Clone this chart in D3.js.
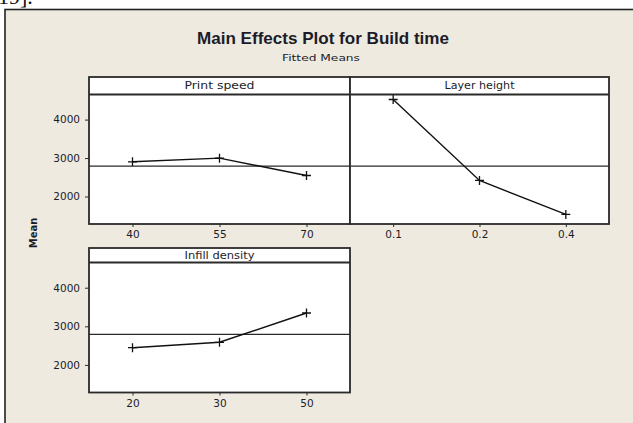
<!DOCTYPE html>
<html>
<head>
<meta charset="utf-8">
<script src="https://cdn.jsdelivr.net/npm/d3@7"></script>
<style>
  body { margin: 0; background: #fff; }
  svg { display: block; }
</style>
</head>
<body>
<div id="chart"></div>
<script>
// values
var chartTitle = "Main Effects Plot for Build time";
var chartSubtitle = "Fitted Means";
var factorNames = ["Print speed", "Layer height", "Infill density"];
var printSpeedLevels = ["40", "55", "70"];
var printSpeedMeans = [2903, 2997, 2547];
var layerHeightLevels = ["0.1", "0.2", "0.4"];
var layerHeightMeans = [4523, 2417, 1533];
var infillLevels = ["20", "30", "50"];
var infillMeans = [2446, 2586, 3345];
var grandMean = 2790;
var meanTicks = [2000, 3000, 4000];
var meanDomain = [1285, 4653];

var W = 633, H = 423;
var ink = "#1c1c28";
var edge = "#2a2a2a";

var svg = d3.select("#chart").append("svg")
  .attr("width", W)
  .attr("height", H);

// bit of the page text above the figure (cut off, as in the scan)
svg.append("text")
  .attr("x", -2).attr("y", 4)
  .style("font-family", "'Liberation Serif', serif")
  .style("font-size", "22px")
  .attr("fill", "#111")
  .text("19].");

// figure frame
svg.append("rect")
  .attr("x", 5).attr("y", 9.5)
  .attr("width", 650).attr("height", 430)
  .attr("fill", "#eeeae0")
  .attr("stroke", "#222")
  .attr("stroke-width", 1.6);

svg.append("text")
  .attr("x", 323).attr("y", 43.5)
  .attr("text-anchor", "middle")
  .attr("textLength", 252).attr("lengthAdjust", "spacingAndGlyphs")
  .style("font-family", "'Liberation Sans', Arial, sans-serif")
  .style("font-weight", "bold")
  .style("font-size", "16.5px")
  .attr("fill", ink)
  .text(chartTitle);

svg.append("text")
  .attr("x", 321).attr("y", 60.5)
  .attr("text-anchor", "middle")
  .attr("textLength", 78).attr("lengthAdjust", "spacingAndGlyphs")
  .style("font-family", "'DejaVu Sans', sans-serif")
  .style("font-size", "9.5px")
  .attr("fill", ink)
  .text(chartSubtitle);

// rotated y label
svg.append("text")
  .attr("transform", "translate(37,233) rotate(-90)")
  .attr("text-anchor", "middle")
  .style("font-family", "'DejaVu Sans', sans-serif")
  .style("font-weight", "bold")
  .style("font-size", "10px")
  .attr("fill", ink)
  .text("Mean");

var panels = [
  { name: factorNames[0], levels: printSpeedLevels, means: printSpeedMeans,
    x0: 89, x1: 350, top: 77, head: 94.5, bottom: 224, yAxis: true },
  { name: factorNames[1], levels: layerHeightLevels, means: layerHeightMeans,
    x0: 350, x1: 609, top: 77, head: 94.5, bottom: 224, yAxis: false },
  { name: factorNames[2], levels: infillLevels, means: infillMeans,
    x0: 89, x1: 350, top: 248, head: 262.5, bottom: 392.5, yAxis: true }
];

panels.forEach(function(p) {
  var g = svg.append("g");

  var x = d3.scalePoint()
    .domain(p.levels)
    .range([p.x0, p.x1])
    .padding(0.5);

  var y = d3.scaleLinear()
    .domain(meanDomain)
    .range([p.bottom, p.head]);

  // header strip + plot box
  g.append("rect")
    .attr("x", p.x0).attr("y", p.top)
    .attr("width", p.x1 - p.x0).attr("height", p.bottom - p.top)
    .attr("fill", "#fff");

  g.append("text")
    .attr("x", (p.x0 + p.x1) / 2).attr("y", p.top + (p.head - p.top) / 2 + 3.5)
    .attr("text-anchor", "middle")
    .attr("textLength", 70).attr("lengthAdjust", "spacingAndGlyphs")
    .style("font-family", "'DejaVu Sans', sans-serif")
    .style("font-size", "10px")
    .attr("fill", ink)
    .text(p.name);

  // reference line at the overall mean
  g.append("line")
    .attr("x1", p.x0).attr("x2", p.x1)
    .attr("y1", y(grandMean)).attr("y2", y(grandMean))
    .attr("stroke", edge)
    .attr("stroke-width", 1.2);

  var line = d3.line()
    .x(function(d, i) { return x(p.levels[i]); })
    .y(function(d) { return y(d); });

  g.append("path")
    .datum(p.means)
    .attr("d", line)
    .attr("fill", "none")
    .attr("stroke", "#111")
    .attr("stroke-width", 1.4);

  g.selectAll(".pt")
    .data(p.means)
    .enter().append("path")
    .attr("class", "pt")
    .attr("transform", function(d, i) { return "translate(" + x(p.levels[i]) + "," + y(d) + ")"; })
    .attr("d", d3.symbol(d3.symbolPlus, 28))
    .attr("fill", "none")
    .attr("stroke", "#111")
    .attr("stroke-width", 1.3);

  // borders
  g.append("rect")
    .attr("x", p.x0).attr("y", p.top)
    .attr("width", p.x1 - p.x0).attr("height", p.bottom - p.top)
    .attr("fill", "none")
    .attr("stroke", edge)
    .attr("stroke-width", 1.8);

  g.append("line")
    .attr("x1", p.x0).attr("x2", p.x1)
    .attr("y1", p.head).attr("y2", p.head)
    .attr("stroke", edge)
    .attr("stroke-width", 1.8);

  // x axis
  var xa = g.append("g")
    .attr("transform", "translate(0," + p.bottom + ")")
    .call(d3.axisBottom(x).tickSize(3).tickPadding(4));
  xa.select(".domain").remove();
  xa.selectAll("line").attr("stroke", edge);
  xa.selectAll("text")
    .style("font-family", "'DejaVu Sans', sans-serif")
    .style("font-size", "10.5px")
    .attr("fill", ink);

  if (p.yAxis) {
    var ya = g.append("g")
      .attr("transform", "translate(" + p.x0 + ",0)")
      .call(d3.axisLeft(y).tickValues(meanTicks).tickFormat(d3.format("d"))
        .tickSize(4).tickPadding(5));
    ya.select(".domain").remove();
    ya.selectAll("line").attr("stroke", edge);
    ya.selectAll("text")
      .style("font-family", "'DejaVu Sans', sans-serif")
      .style("font-size", "10.5px")
      .attr("fill", ink);
  }
});
</script>
</body>
</html>
